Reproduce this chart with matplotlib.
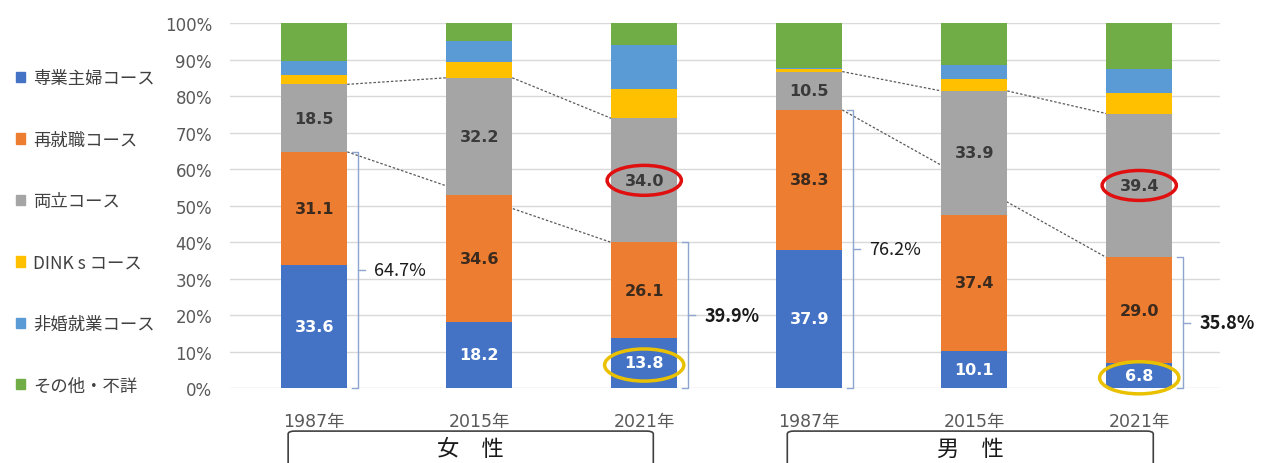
import numpy as np
import matplotlib
matplotlib.use("Agg")
import matplotlib.pyplot as plt
from matplotlib.patches import Ellipse, FancyBboxPatch, Patch
from matplotlib.transforms import blended_transform_factory

plt.rcParams['font.family'] = ['Noto Sans CJK JP', 'DejaVu Sans']
NUM_FONT = ['DejaVu Sans', 'Noto Sans CJK JP']

years = ["1987年", "2015年", "2021年", "1987年", "2015年", "2021年"]
groups = ["女　性", "男　性"]
courses = ["専業主婦コース", "再就職コース", "両立コース", "DINK s コース", "非婚就業コース", "その他・不詳"]

housewife = [33.6, 18.2, 13.8, 37.9, 10.1, 6.8]
reemploy = [31.1, 34.6, 26.1, 38.3, 37.4, 29.0]
balance = [18.5, 32.2, 34.0, 10.5, 33.9, 39.4]
dinks = [2.6, 4.3, 8.0, 0.6, 3.4, 5.7]
single_work = [3.7, 5.9, 12.0, 0.4, 3.6, 6.5]
other = [10.5, 4.8, 6.1, 12.3, 11.6, 12.6]

colors = ["#4472C4", "#ED7D31", "#A5A5A5", "#FFC000", "#5B9BD5", "#70AD47"]
label_colors = ["white", "#3B2A1E", "#3A3A3A"]

series = np.array([housewife, reemploy, balance, dinks, single_work, other])
x = np.arange(len(years))
width = 0.4

fig = plt.figure(figsize=(12.62, 4.64), dpi=100)
ax = fig.add_axes([0.1823, 0.1616, 0.7845, 0.7866])

bottom = np.zeros(len(years))
handles = []
for i, vals in enumerate(series):
    ax.bar(x, vals, width, bottom=bottom, color=colors[i], zorder=3)
    handles.append(Patch(color=colors[i]))
    if i < 3:
        for xi, v, b in zip(x, vals, bottom):
            ax.text(xi, b + v / 2, f"{v:.1f}", ha="center", va="center", family=NUM_FONT,
                    fontsize=11.5, fontweight="bold", color=label_colors[i], zorder=5)
    bottom = bottom + vals

cum = np.cumsum(series, axis=0)
top_reemploy = cum[1]
top_balance = cum[2]

# dotted guide lines between bars of the same group
dot_kw = dict(color="#595959", lw=0.9, ls=(0, (2, 1.5)), zorder=1)
for g in (0, 3):
    a, b, c = g, g + 1, g + 2
    ax.plot([a + width / 2, b - width / 2], [top_balance[a], top_balance[b]], **dot_kw)
    ax.plot([b + width / 2, c - width / 2], [top_balance[b], top_balance[c]], **dot_kw)
    ax.plot([a + width / 2, c - width / 2], [top_reemploy[a], top_reemploy[c]], **dot_kw)

# brackets showing housewife + re-employment share
bracket_color = "#8EA6CF"
for idx, bold in [(0, False), (2, True), (3, False), (5, True)]:
    bx = idx + 0.265
    top = top_reemploy[idx]
    ax.plot([bx - 0.035, bx, bx, bx - 0.035], [top, top, 0, 0],
            color=bracket_color, lw=1, zorder=4, clip_on=False)
    ax.plot([bx, bx + 0.04], [top / 2, top / 2], color=bracket_color, lw=1, zorder=4)
    ax.text(bx + 0.1, top / 2, f"{top:.1f}%", ha="left", va="center", fontsize=13,
            fontweight="bold" if bold else "normal", color="#1A1A1A", zorder=5)

# highlight circles on the 2021 bars
for idx in (2, 5):
    ax.add_patch(Ellipse((idx, cum[1][idx] + balance[idx] / 2), 0.45, 8.2,
                         fill=False, edgecolor="#E01010", lw=2.5, zorder=6))
    ax.add_patch(Ellipse((idx, housewife[idx] / 2 - 0.6), 0.48, 8.8,
                         fill=False, edgecolor="#EAC100", lw=2.5, zorder=6, clip_on=False))

ax.set_xlim(-0.51, 5.49)
ax.set_ylim(0, 100)
ax.set_yticks(np.arange(0, 101, 10))
ax.set_yticklabels([f"{v}%" for v in range(0, 101, 10)], family=NUM_FONT)
ax.set_xticks(x)
ax.set_xticklabels(years, family=NUM_FONT)
ax.tick_params(axis="both", length=0, labelsize=12, colors="#595959")
ax.tick_params(axis="x", labelsize=12.5, pad=17)
ax.tick_params(axis="y", pad=13)
ax.grid(axis="y", color="#D9D9D9", lw=1, zorder=0)
ax.set_axisbelow(True)
for s in ax.spines.values():
    s.set_visible(False)

# group boxes under the year labels
trans = blended_transform_factory(ax.transData, ax.transAxes)
for gx0, gx1, name in [(-0.158, 2.055, groups[0]), (2.867, 5.085, groups[1])]:
    box = FancyBboxPatch((gx0, -0.25), gx1 - gx0, 0.132,
                         boxstyle="round,pad=0,rounding_size=0.04", mutation_aspect=0.2,
                         transform=trans, fill=False, edgecolor="#404040", lw=1.2, clip_on=False)
    ax.add_patch(box)
    ax.text((gx0 + gx1) / 2, -0.166, name, transform=trans, ha="center", va="center",
            fontsize=16, color="#1A1A1A")

fig.legend(handles, courses, loc="upper left", bbox_to_anchor=(0.0, 0.882), frameon=False,
           fontsize=12.5, handlelength=0.55, handleheight=0.55, handletextpad=0.45,
           labelspacing=2.5, labelcolor="#404040")

fig.savefig("out.png", dpi=100)
